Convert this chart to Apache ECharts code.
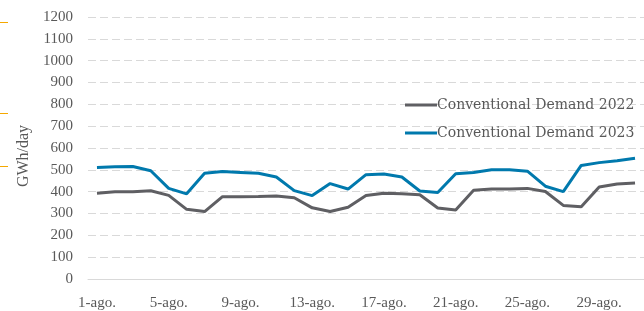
<!DOCTYPE html>
<html>
<head>
<meta charset="utf-8">
<script src="https://cdn.jsdelivr.net/npm/echarts@6/dist/echarts.min.js"></script>
<style>
html,body{margin:0;padding:0;background:#fff;}
#chart{width:644px;height:311px;}
</style>
</head>
<body>
<div id="chart"></div>
<script>
const days = [];
for (let d = 1; d <= 31; d++) days.push(d + '-ago.');
const demand2022 = [393, 400, 400, 404, 383, 319, 309, 377, 377, 378, 380, 372, 326, 309, 329, 382, 393, 390, 386, 325, 316, 406, 412, 412, 415, 401, 337, 331, 421, 435, 440];
const demand2023 = [511, 514, 515, 496, 415, 390, 484, 492, 488, 484, 467, 405, 382, 437, 412, 478, 481, 467, 403, 396, 482, 488, 500, 500, 494, 425, 400, 520, 533, 542, 553];
const seriesNames = ['Conventional Demand 2022', 'Conventional Demand 2023'];
const yName = 'GWh/day';

const chart = echarts.init(document.getElementById('chart'), null, {renderer: 'canvas'});
chart.setOption({
  animation: false,
  backgroundColor: '#ffffff',
  grid: {left: 88, top: 17, bottom: 27, width: 563, containLabel: false},
  legend: {
    orient: 'vertical',
    left: 400,
    top: 93,
    itemWidth: 32,
    itemHeight: 14,
    itemGap: 14,
    icon: 'path://M0,6 L32,6 L32,9 L0,9 Z',
    textStyle: {fontFamily: 'DejaVu Serif', fontSize: 14, color: '#595959', padding: [0, 0, 0, -5]},
    data: seriesNames
  },
  xAxis: {
    type: 'category',
    data: days,
    boundaryGap: true,
    axisLine: {show: true, lineStyle: {color: '#d9d9d9', width: 1}},
    axisTick: {show: false},
    axisLabel: {
      interval: 3,
      margin: 17,
      fontFamily: 'Liberation Serif',
      fontSize: 15,
      color: '#595959'
    },
    splitLine: {show: false}
  },
  yAxis: {
    type: 'value',
    min: 0,
    max: 1200,
    interval: 100,
    name: yName,
    nameLocation: 'middle',
    nameGap: 49,
    nameRotate: 90,
    nameTextStyle: {fontFamily: 'Liberation Serif', fontSize: 16, color: '#595959', padding: [0, 16, 0, 0]},
    axisLine: {show: false},
    axisTick: {show: false},
    axisLabel: {
      fontFamily: 'Liberation Serif', fontSize: 15, color: '#595959', margin: 15,
      formatter: function (v) { return String(v); }
    },
    splitLine: {show: true, lineStyle: {color: '#d9d9d9', type: [8, 4], width: 1}}
  },
  series: [
    {
      name: seriesNames[0],
      type: 'line',
      data: demand2022,
      symbol: 'none',
      lineStyle: {color: '#5f5f63', width: 3},
      itemStyle: {color: '#5f5f63'},
      z: 3
    },
    {
      name: seriesNames[1],
      type: 'line',
      data: demand2023,
      symbol: 'none',
      lineStyle: {color: '#0079ad', width: 3},
      itemStyle: {color: '#0079ad'},
      z: 4
    }
  ],
  graphic: [
    {type: 'line', shape: {x1: 0, y1: 22.5, x2: 8, y2: 22.5}, style: {stroke: '#f5a800', lineWidth: 1}},
    {type: 'line', shape: {x1: 0, y1: 113.5, x2: 8, y2: 113.5}, style: {stroke: '#f5a800', lineWidth: 1}},
    {type: 'line', shape: {x1: 0, y1: 166.5, x2: 8, y2: 166.5}, style: {stroke: '#f5a800', lineWidth: 1}}
  ]
});
</script>
</body>
</html>
